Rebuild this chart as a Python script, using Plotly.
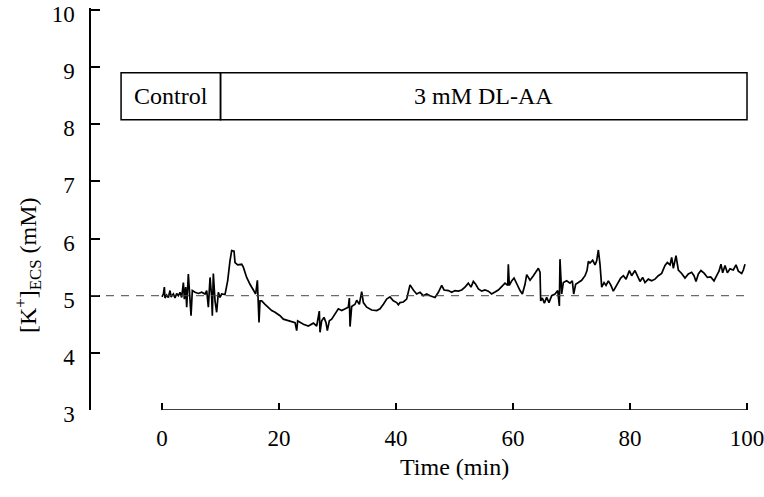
import plotly.graph_objects as go

# ---- data ----
time_min = [
    0.0, 0.23, 0.40, 0.51, 0.80, 1.08, 1.37, 1.54, 1.94, 2.22, 2.51, 2.79, 3.08, 3.36, 3.65, 3.82,
    4.05, 4.22, 4.50, 4.73, 4.96, 5.18, 5.64, 6.21, 6.78, 7.35, 7.64, 7.92, 8.21, 8.49, 8.60, 8.77,
    9.06, 9.34, 9.63, 9.91, 10.20, 10.77, 11.22, 11.62, 11.91, 12.31, 12.48, 12.93, 13.62, 13.90,
    14.47, 15.04, 15.61, 16.01, 16.30, 16.41, 16.58, 16.75, 17.04, 17.61, 18.18, 18.75, 19.32,
    20.17, 20.74, 21.60, 22.17, 22.74, 23.02, 23.19, 23.87,
    24.16, 25.01, 25.87, 26.44, 26.89, 27.01, 27.29, 27.69, 28.03, 28.26, 28.60, 29.00, 29.57,
    30.14, 30.71, 31.28, 31.85, 32.02, 32.14, 32.42, 32.99, 33.28, 33.73, 34.13, 34.42, 34.99,
    35.84, 36.70, 37.27, 37.84, 38.40, 38.97, 39.54, 40.11, 40.40, 40.68, 41.25, 41.82, 42.39,
    42.96, 43.53, 44.10, 44.67, 45.24, 45.81, 46.67, 47.24, 47.81, 48.21, 48.95,
    49.52, 50.09, 50.66, 51.23, 51.79, 52.36, 52.82, 53.22, 53.62, 54.08, 54.65, 55.21, 55.78,
    56.35, 56.92, 57.49, 58.06, 58.63, 59.09, 59.20, 59.37, 59.77, 60.17, 60.63, 61.20, 61.60,
    62.05, 62.34, 62.91, 63.48, 64.05, 64.33, 64.62, 64.73, 65.01, 65.36, 65.75, 66.15, 66.61,
    67.18, 67.64, 67.92, 68.03, 68.32, 68.60, 69.17, 69.74, 70.14, 70.37, 70.71, 71.17, 71.74,
    72.31, 72.65, 72.88,
    73.16, 73.62, 74.02, 74.30, 74.59, 74.87, 75.16, 75.56, 75.90, 76.30, 76.70, 77.15, 77.61,
    78.01, 78.41, 78.86, 79.32, 79.89, 80.28, 80.85, 81.31, 81.71, 82.16, 82.56, 83.13, 83.70,
    84.27, 84.84, 85.41, 85.98, 86.38, 86.84, 87.12, 87.41, 87.86, 88.26, 88.83, 89.40, 89.97,
    90.54, 90.94, 91.28, 91.68, 92.13, 92.70, 93.22, 93.79, 94.36, 94.81, 95.21, 95.55, 95.84,
    96.24, 96.64, 97.09, 97.66, 98.12, 98.52, 99.09, 99.37, 99.66,
]
k_ecs_mM = [
    4.98, 5.03, 5.15, 4.96, 5.01, 4.97, 5.09, 4.98, 5.03, 4.96, 5.04, 5.00, 5.06, 4.97, 5.23, 4.94,
    5.15, 4.80, 5.38, 5.03, 4.65, 5.09, 5.06, 5.04, 5.06, 5.03, 5.09, 4.80, 5.32, 4.97, 4.65, 5.39,
    4.91, 4.71, 5.06, 4.97, 5.03, 5.02, 5.26, 5.61, 5.79, 5.78, 5.58, 5.54, 5.55, 5.50,
    5.32, 5.20, 5.09, 5.03, 5.27, 4.94, 4.53, 4.91, 4.91, 4.85, 4.80, 4.74, 4.71,
    4.65, 4.59, 4.56, 4.55, 4.53, 4.39, 4.56, 4.52,
    4.50, 4.47, 4.52, 4.47, 4.73, 4.36, 4.56, 4.62, 4.53, 4.39, 4.56, 4.59, 4.67,
    4.77, 4.74, 4.77, 4.80, 4.96, 4.46, 4.81, 4.85, 4.92, 4.85, 5.07, 4.88, 4.80,
    4.75, 4.74, 4.77, 4.85, 4.94, 4.98, 4.91, 4.88, 4.84, 4.88, 4.89, 4.94, 5.19,
    5.10, 5.03, 5.06, 5.00, 5.03, 5.00, 4.97, 5.06, 5.18, 5.10, 5.09,
    5.06, 5.09, 5.08, 5.10, 5.15, 5.22, 5.15, 5.25, 5.20, 5.12, 5.08, 5.10, 5.08,
    5.03, 5.06, 5.10, 5.16, 5.22, 5.18, 5.55, 5.18, 5.26, 5.31, 5.20, 5.09, 5.03,
    5.20, 5.37, 5.27, 5.35, 5.44, 5.48, 5.41, 4.91, 4.96, 4.87, 4.97, 4.88, 5.00,
    5.03, 5.09, 4.82, 5.64, 5.03, 5.23, 5.26, 5.22, 5.26, 5.03, 5.20, 5.23, 5.27,
    5.35, 5.44, 5.60,
    5.57, 5.62, 5.54, 5.61, 5.80, 5.55, 5.15, 5.23, 5.18, 5.26, 5.19, 5.08, 5.16,
    5.23, 5.31, 5.35, 5.29, 5.44, 5.35, 5.44, 5.35, 5.25, 5.32, 5.23, 5.29, 5.26,
    5.29, 5.35, 5.39, 5.53, 5.58, 5.54, 5.67, 5.48, 5.70, 5.45, 5.39, 5.31, 5.38,
    5.41, 5.35, 5.25, 5.38, 5.44, 5.39, 5.32, 5.33, 5.26, 5.35, 5.43, 5.55, 5.40,
    5.53, 5.40, 5.47, 5.45, 5.54, 5.43, 5.39, 5.45, 5.55,
]
baseline_mM = 5.0
x_ticks = [0, 20, 40, 60, 80, 100]
y_ticks = [3, 4, 5, 6, 7, 8, 9, 10]
phase_labels = ["Control", "3 mM DL-AA"]
phase_edges = [-7, 10, 100]
phase_bar_y = [8.08, 8.90]

FONT = "Liberation Serif"
X_MIN = -12.14
X_MAX = 100.34
Y_MAX = 10.035

fig = go.Figure()
fig.add_trace(go.Scatter(
    x=time_min, y=k_ecs_mM, mode="lines",
    line=dict(color="black", width=1.7), hoverinfo="skip", showlegend=False,
))

# baseline dashed line
fig.add_shape(type="line", xref="x", yref="y", x0=X_MIN, x1=x_ticks[-1],
              y0=baseline_mM, y1=baseline_mM,
              line=dict(color="#444444", width=1, dash="8px,7px"))
# x axis line (only spanning tick range)
fig.add_shape(type="line", xref="x", yref="y", x0=x_ticks[0], x1=x_ticks[-1],
              y0=y_ticks[0], y1=y_ticks[0], line=dict(color="black", width=1.5))

# phase bar
for i, lab in enumerate(phase_labels):
    x0, x1 = phase_edges[i], phase_edges[i + 1]
    fig.add_shape(type="rect", xref="x", yref="y", x0=x0, x1=x1,
                  y0=phase_bar_y[0], y1=phase_bar_y[1],
                  line=dict(color="black", width=1.5), fillcolor="rgba(0,0,0,0)")
    fig.add_annotation(x=(x0 + x1) / 2, y=sum(phase_bar_y) / 2, xref="x", yref="y",
                       text=lab, showarrow=False, xanchor="center", yanchor="middle",
                       font=dict(family=FONT, size=24, color="black"))

# axis titles
fig.add_annotation(x=0.552, y=-0.142, xref="paper", yref="paper",
                   text="Time (min)", showarrow=False, xanchor="center", yanchor="middle",
                   font=dict(family=FONT, size=24, color="black"))
fig.add_annotation(x=-0.096, y=0.36, xref="paper", yref="paper",
                   text="[K<sup>+</sup>]<sub>ECS</sub> (mM)", showarrow=False, textangle=-90,
                   xanchor="center", yanchor="middle",
                   font=dict(family=FONT, size=24, color="black"))

fig.update_layout(
    width=764, height=497,
    margin=dict(l=91, r=15, t=8, b=87, autoexpand=False),
    paper_bgcolor="white", plot_bgcolor="white",
    font=dict(family=FONT, size=23, color="black"),
    xaxis=dict(range=[X_MIN, X_MAX], tickvals=x_ticks, ticks="inside", ticklen=7,
               tickwidth=1.5, tickcolor="black", showline=False, showgrid=False,
               zeroline=False, ticklabelstandoff=12, ticklabeloverflow="allow",
               automargin=False,
               tickfont=dict(family=FONT, size=23, color="black")),
    yaxis=dict(range=[3, Y_MAX], tickvals=y_ticks, ticks="inside", ticklen=9,
               tickwidth=1.5, tickcolor="black", showline=True, linecolor="black",
               linewidth=1.5, showgrid=False, zeroline=False, ticklabelstandoff=10,
               ticklabelshift=4, ticklabeloverflow="allow", automargin=False,
               tickfont=dict(family=FONT, size=23, color="black")),
)

fig.write_html("out.html", config={"displayModeBar": False},
               post_script="document.body.style.margin='0';")
